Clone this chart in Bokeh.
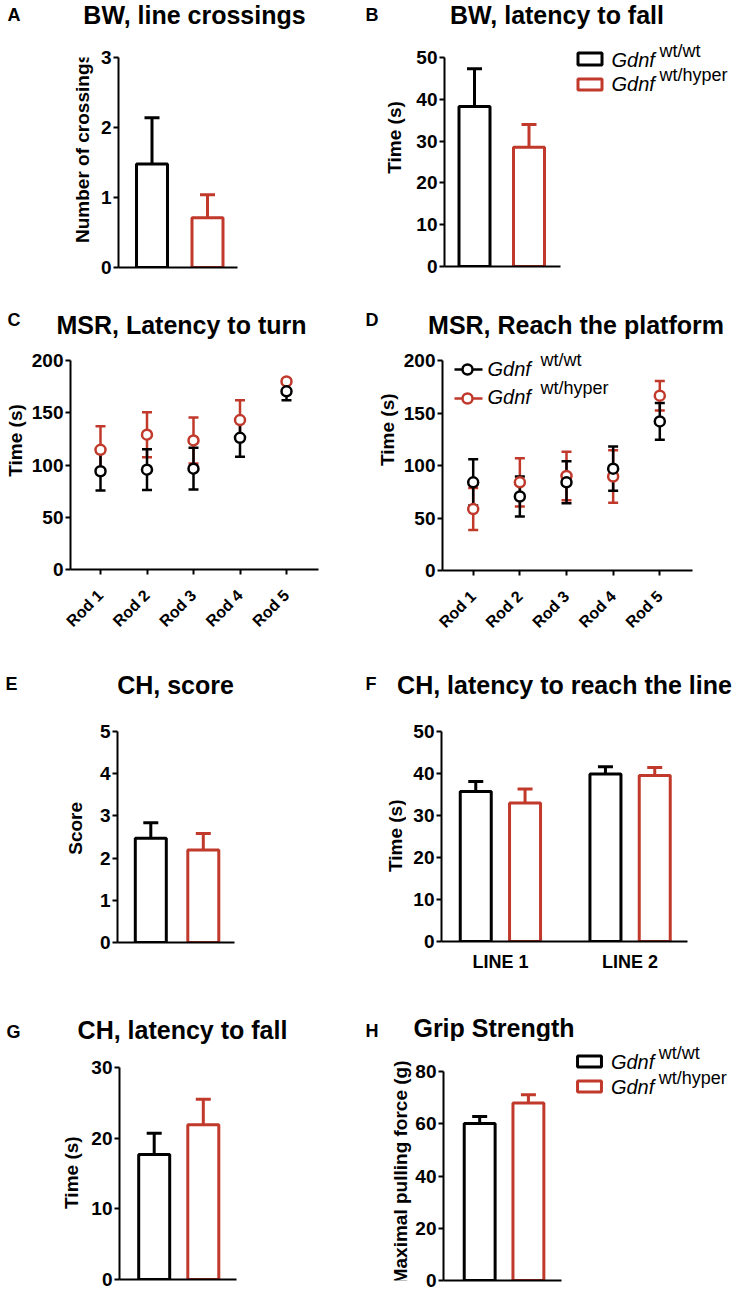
import math
from bokeh.plotting import figure
from bokeh.models import Range1d, FixedTicker, Label, Whisker, TeeHead, ColumnDataSource
from bokeh.layouts import row, column
from bokeh.embed import file_html
from bokeh.resources import INLINE

FONT = "Liberation Sans"
BLACK = "#000000"
RED = "#C0392B"

# ---------------- data ----------------
legend_main = ["Gdnf", "Gdnf"]
legend_sup = ["wt/wt", "wt/hyper"]

bw_crossings = [1.48, 0.71]
bw_crossings_sem = [0.66, 0.33]

bw_fall = [38.3, 28.5]
bw_fall_sem = [9.0, 5.5]

rods = ["Rod 1", "Rod 2", "Rod 3", "Rod 4", "Rod 5"]
msr_turn_wt = [94, 95.5, 96.5, 126, 170.5]
msr_turn_wt_sem = [18.5, 19.5, 20, 18, 8.5]
msr_turn_hyper = [114.5, 129, 123.5, 143, 180]
msr_turn_hyper_sem = [22.5, 21.5, 22, 19, 2]

msr_platform_wt = [84, 70.5, 84, 97, 142]
msr_platform_wt_sem = [22, 19, 20, 21, 17.5]
msr_platform_hyper = [58.5, 84, 90, 89.5, 166.5]
msr_platform_hyper_sem = [20, 23, 23, 25, 14]

ch_score = [2.47, 2.19]
ch_score_sem = [0.37, 0.39]

ch_lines = ["LINE 1", "LINE 2"]
ch_line_wt = [35.7, 39.9]
ch_line_wt_sem = [2.4, 1.7]
ch_line_hyper = [33.0, 39.5]
ch_line_hyper_sem = [3.3, 1.9]

ch_fall = [17.7, 21.9]
ch_fall_sem = [3.0, 3.6]

grip = [60.1, 67.9]
grip_sem = [2.7, 3.2]

ticks_A = [0, 1, 2, 3]
ticks_B = [0, 10, 20, 30, 40, 50]
ticks_CD = [0, 50, 100, 150, 200]
ticks_E = [0, 1, 2, 3, 4, 5]
ticks_F = [0, 10, 20, 30, 40, 50]
ticks_G = [0, 10, 20, 30]
ticks_H = [0, 20, 40, 60, 80]

TITLE = 25


def mid(baseline_py, size):
    """Vertical centre (page px) of a text line whose baseline is given."""
    return baseline_py - 0.35 * size


def add_label(p, x, y, s, size, style="bold", align="left", angle=0.0):
    p.add_layout(Label(x=x, y=y, text=s, text_font=FONT, text_font_size=f"{size}px",
                       text_font_style=style, text_align=align, text_baseline="middle",
                       angle=angle, text_color=BLACK))


def strip(x0, y0, x1, y1):
    """Text-only figure whose data coordinates are the page pixels."""
    p = figure(width=x1 - x0, height=y1 - y0,
               x_range=Range1d(x0, x1), y_range=Range1d(y1, y0),
               x_axis_type=None, y_axis_type=None, min_border=0,
               title_location=None,
               toolbar_location=None, tools="", output_backend="svg")
    p.outline_line_color = None
    p.background_fill_color = "white"
    p.border_fill_color = "white"
    return p


def stext(p, px, baseline, s, size, style="bold", align="left"):
    add_label(p, px, mid(baseline, size), s, size, style, align)


def vlabel(p, px, py, s, size=19):
    add_label(p, px, py, s, size, "bold", "center", math.pi / 2)


class Panel:
    """Plot figure whose geometry is given in page pixels."""

    def __init__(self, ox, oy, W, H, fl, fr, ft, fb, c1, k, ytop_px, ymax, yticks,
                 xbound_px=None):
        self.c1, self.k, self.fb = c1, k, fb
        self.yk = (fb - ytop_px) / ymax
        p = figure(width=W, height=H,
                   x_range=Range1d(self.X(fl), self.X(fr)),
                   y_range=Range1d(0, self.Y(ft)),
                   min_border_left=fl - ox, min_border_right=ox + W - fr,
                   min_border_top=ft - oy, min_border_bottom=oy + H - fb,
                   title_location=None,
                   toolbar_location=None, tools="", output_backend="svg")
        p.outline_line_color = None
        p.xgrid.visible = False
        p.ygrid.visible = False
        p.background_fill_color = "white"
        p.border_fill_color = "white"
        for ax in (p.xaxis[0], p.yaxis[0]):
            ax.axis_line_width = 2
            ax.axis_line_color = BLACK
            ax.major_tick_line_width = 2
            ax.major_tick_line_color = BLACK
            ax.major_tick_out = 5
            ax.major_tick_in = 0
            ax.minor_tick_out = 0
            ax.minor_tick_in = 0
            ax.major_label_text_font = FONT
            ax.major_label_text_font_style = "bold"
            ax.major_label_text_color = BLACK
        ya = p.yaxis[0]
        ya.ticker = FixedTicker(ticks=yticks, minor_ticks=[])
        ya.major_label_text_font_size = "19px"
        ya.major_label_standoff = 2
        ya.bounds = (0, ymax)
        xa = p.xaxis[0]
        xa.ticker = FixedTicker(ticks=[], minor_ticks=[])
        if xbound_px is not None:
            xa.bounds = (self.X(xbound_px[0]), self.X(xbound_px[1]))
        self.p = p

    def X(self, px):
        return 1 + (px - self.c1) / self.k

    def Y(self, py):
        return (self.fb - py) / self.yk

    def text(self, px, baseline, s, size, style="bold", align="left"):
        add_label(self.p, self.X(px), self.Y(mid(baseline, size)), s, size, style, align)

    def bars(self, xs, vals, sems, color, width_px=31):
        src = ColumnDataSource(dict(x=xs, lower=vals,
                                    upper=[v + s for v, s in zip(vals, sems)]))
        self.p.add_layout(Whisker(source=src, base="x", lower="lower", upper="upper",
                                  dimension="height", line_color=color, line_width=3,
                                  upper_head=TeeHead(size=15, line_color=color, line_width=3),
                                  lower_head=None))
        self.p.vbar(x=xs, top=vals, bottom=0, width=width_px / self.k,
                    fill_color="white", line_color=color, line_width=3)

    def points(self, xs, vals, sems, color):
        src = ColumnDataSource(dict(x=xs,
                                    lower=[v - s for v, s in zip(vals, sems)],
                                    upper=[v + s for v, s in zip(vals, sems)]))
        self.p.add_layout(Whisker(source=src, base="x", lower="lower", upper="upper",
                                  dimension="height", line_color=color, line_width=2.5,
                                  upper_head=TeeHead(size=10, line_color=color, line_width=2.5),
                                  lower_head=TeeHead(size=10, line_color=color, line_width=2.5)))
        self.p.scatter(x=xs, y=vals, marker="circle", size=10, fill_color="white",
                       line_color=color, line_width=2.5)

    def box_legend(self, x0, x1, rows_y, text_x, sup_x):
        for (top, bot, base, sbase), color, m, s in zip(rows_y, [BLACK, RED], legend_main, legend_sup):
            self.p.quad(left=self.X(x0), right=self.X(x1), top=self.Y(top), bottom=self.Y(bot),
                        fill_color="white", line_color=color, line_width=3)
            self.text(text_x, base, m, 20, "italic")
            self.text(sup_x, sbase, s, 18, "normal")


def panel_layout(title_strip, left_strip, plot):
    return column(title_strip, row(left_strip, plot))


two = [1, 2]
RIGHT = 736
BOTTOM = 1293

# ---------------- A ----------------
tA = strip(0, 0, 364, 40)
stext(tA, 7, 21, "A", 18)
stext(tA, 194, 23, "BW, line crossings", TITLE, align="center")
lA = strip(0, 40, 95, 300)
vlabel(lA, 82, 152, "Number of crossings")
A = Panel(95, 40, 269, 260, 118, 237, 57, 267, 151.5, 55.5, 57, 3, ticks_A)
A.bars([two[0]], [bw_crossings[0]], [bw_crossings_sem[0]], BLACK)
A.bars([two[1]], [bw_crossings[1]], [bw_crossings_sem[1]], RED)

# ---------------- B ----------------
tB = strip(364, 0, RIGHT, 40)
stext(tB, 365, 21, "B", 18)
stext(tB, 556.5, 23, "BW, latency to fall", TITLE, align="center")
lB = strip(364, 40, 408, 300)
vlabel(lB, 394, 151.5, "Time (s)")
B = Panel(408, 40, RIGHT - 408, 260, 444, RIGHT, 40, 266, 474, 54.5, 57, 50, ticks_B,
          xbound_px=(444, 560))
B.bars([two[0]], [bw_fall[0]], [bw_fall_sem[0]], BLACK)
B.bars([two[1]], [bw_fall[1]], [bw_fall_sem[1]], RED)
B.box_legend(577.5, 601.5, [(52.5, 64.5, 66, 57), (78.5, 89.5, 90, 81)], 611, 659)

# ---------------- C ----------------
rod_x = list(range(1, len(rods) + 1))
tC = strip(0, 300, 364, 342)
stext(tC, 7, 326, "C", 18)
stext(tC, 181, 333, "MSR, Latency to turn", TITLE, align="center")
lC = strip(0, 342, 28, 640)
vlabel(lC, 15, 456, "Time (s)")
C = Panel(28, 342, 336, 298, 70, 318, 360, 569, 100, 46.5, 360, 200, ticks_CD)
C.points(rod_x, msr_turn_hyper, msr_turn_hyper_sem, RED)
C.points(rod_x, msr_turn_wt, msr_turn_wt_sem, BLACK)

# ---------------- D ----------------
tD = strip(364, 300, RIGHT, 342)
stext(tD, 365, 326, "D", 18)
stext(tD, 575.5, 333, "MSR, Reach the platform", TITLE, align="center")
lD = strip(364, 342, 399, 640)
vlabel(lD, 387, 456, "Time (s)")
D = Panel(399, 342, RIGHT - 399, 298, 442, 692, 342, 570, 472.7, 46.65, 360, 200, ticks_CD)
D.points(rod_x, msr_platform_hyper, msr_platform_hyper_sem, RED)
D.points(rod_x, msr_platform_wt, msr_platform_wt_sem, BLACK)
for ly, base, sbase, color, m, s in [(369, 375, 366, BLACK, legend_main[0], legend_sup[0]),
                                     (398, 403, 394, RED, legend_main[1], legend_sup[1])]:
    D.p.segment(x0=[D.X(454)], y0=[D.Y(ly)], x1=[D.X(482)], y1=[D.Y(ly)],
                line_color=color, line_width=2.5)
    D.p.scatter(x=[D.X(467)], y=[D.Y(ly)], marker="circle", size=10,
                fill_color="white", line_color=color, line_width=2.5)
    D.text(487, base, m, 20, "italic")
    D.text(540, sbase, s, 18, "normal")

for P in (C, D):
    xa = P.p.xaxis[0]
    xa.ticker = FixedTicker(ticks=rod_x, minor_ticks=[])
    xa.major_label_overrides = {i: r for i, r in zip(rod_x, rods)}
    xa.major_label_orientation = math.pi / 4
    xa.major_label_text_font_size = "16px"
    xa.major_label_standoff = 18

# ---------------- E ----------------
tE = strip(0, 640, 364, 700)
stext(tE, 5, 690, "E", 18)
stext(tE, 175, 693, "CH, score", TITLE, align="center")
lE = strip(0, 700, 90, 980)
vlabel(lE, 75, 828.5, "Score")
E = Panel(90, 700, 274, 280, 117, 234, 731, 942, 150.3, 52.5, 731, 5, ticks_E)
E.bars([two[0]], [ch_score[0]], [ch_score_sem[0]], BLACK)
E.bars([two[1]], [ch_score[1]], [ch_score_sem[1]], RED)

# ---------------- F ----------------
line_x = list(range(1, len(ch_lines) + 1))
tF = strip(364, 640, RIGHT, 700)
stext(tF, 365, 690, "F", 18)
stext(tF, 564, 693, "CH, latency to reach the line", TITLE, align="center")
lF = strip(364, 700, 406, 980)
vlabel(lF, 394.5, 839, "Time (s)")
F = Panel(406, 700, RIGHT - 406, 280, 441, 687, 731, 941, 499.9, 129.7, 731, 50, ticks_F)
F.bars([x - 0.19 for x in line_x], ch_line_wt, ch_line_wt_sem, BLACK)
F.bars([x + 0.19 for x in line_x], ch_line_hyper, ch_line_hyper_sem, RED)
fx = F.p.xaxis[0]
fx.ticker = FixedTicker(ticks=line_x, minor_ticks=[])
fx.major_label_overrides = {i: s for i, s in zip(line_x, ch_lines)}
fx.major_tick_out = 0
fx.major_tick_line_color = None
fx.major_label_standoff = 10
fx.major_label_text_font_size = "18px"

# ---------------- G ----------------
tG = strip(0, 980, 364, 1044)
stext(tG, 6, 1038, "G", 18)
stext(tG, 182, 1038, "CH, latency to fall", TITLE, align="center")
lG = strip(0, 1044, 88, BOTTOM)
vlabel(lG, 71, 1167.5, "Time (s)")
G = Panel(88, 1044, 276, BOTTOM - 1044, 119, 236, 1067, 1279, 153.7, 49.1, 1067, 30, ticks_G)
G.bars([two[0]], [ch_fall[0]], [ch_fall_sem[0]], BLACK)
G.bars([two[1]], [ch_fall[1]], [ch_fall_sem[1]], RED)

# ---------------- H ----------------
HT = 1041
tH = strip(364, 980, RIGHT, HT)
stext(tH, 365, 1037, "H", 18)
stext(tH, 493.5, 1036, "Grip Strength", TITLE, align="center")
lH = strip(364, HT, 412, BOTTOM)
vlabel(lH, 400, 1179, "Maximal pulling force (g)")
H = Panel(412, HT, RIGHT - 412, BOTTOM - HT, 442, RIGHT, HT, 1280, 478.3, 48.9, 1071, 80,
          ticks_H, xbound_px=(442, 560))
H.bars([two[0]], [grip[0]], [grip_sem[0]], BLACK)
H.bars([two[1]], [grip[1]], [grip_sem[1]], RED)
H.box_legend(576.5, 600.5, [(1055.5, 1066.5, 1068, 1059), (1080.5, 1091.5, 1093, 1084)], 610, 658)

layout = column(
    row(panel_layout(tA, lA, A.p), panel_layout(tB, lB, B.p)),
    row(panel_layout(tC, lC, C.p), panel_layout(tD, lD, D.p)),
    row(panel_layout(tE, lE, E.p), panel_layout(tF, lF, F.p)),
    row(panel_layout(tG, lG, G.p), panel_layout(tH, lH, H.p)),
)

with open("out.html", "w") as f:
    f.write(file_html(layout, INLINE))
